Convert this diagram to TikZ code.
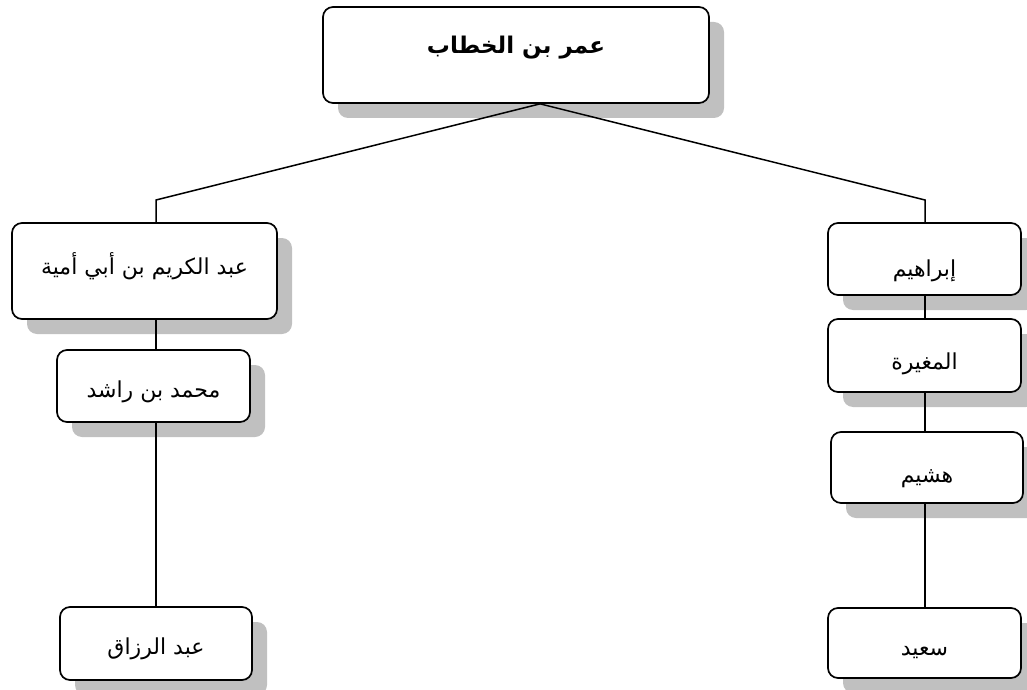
\documentclass[tikz,border=0pt]{standalone}
\usepackage{fontspec}
\usetikzlibrary{shadows}
\TeXXeTstate=1
\newfontfamily\arabicfont[Script=Arabic]{DejaVu Sans}
\definecolor{shadowgray}{RGB}{192,192,192}
\newcommand\artext[2]{\raisebox{#1}[0pt][0pt]{\arabicfont #2}}
\begin{document}
\begin{tikzpicture}[x=1pt,y=-1pt,
  box/.style={draw=black, line width=1.7pt, rounded corners=10pt, fill=white,
    inner sep=0pt, font=\fontsize{22}{24}\selectfont,
    drop shadow={shadow xshift=15pt, shadow yshift=-15pt, fill=shadowgray, opacity=1}},
  link/.style={draw=black, line width=1.5pt}]
\useasboundingbox (0,0) rectangle (1027,690);
\node[box, minimum width=386pt, minimum height=96pt, font=\fontsize{23}{25}\selectfont\bfseries] (top) at (516,55) {\artext{1pt}{\beginR عمر بن الخطاب\endR}};
\node[box, minimum width=265pt, minimum height=96pt] (l1) at (144.5,271) {\artext{-3pt}{\beginR عبد الكريم بن أبي أمية\endR}};
\node[box, minimum width=193pt, minimum height=72pt] (l2) at (153.5,386) {\artext{-11pt}{\beginR محمد بن راشد\endR}};
\node[box, minimum width=192pt, minimum height=73pt] (l3) at (156,643.5) {\artext{-11pt}{\beginR عبد الرزاق\endR}};
\node[box, minimum width=193pt, minimum height=72pt] (r1) at (924.5,259) {\artext{-17pt}{\beginR إبراهيم\endR}};
\node[box, minimum width=193pt, minimum height=73pt] (r2) at (924.5,355.5) {\artext{-14pt}{\beginR المغيرة\endR}};
\node[box, minimum width=192pt, minimum height=71pt] (r3) at (927,467.5) {\artext{-15pt}{\beginR هشيم\endR}};
\node[box, minimum width=193pt, minimum height=70pt] (r4) at (924.5,643) {\artext{-12pt}{\beginR سعيد\endR}};
\coordinate (apex) at ([xshift=24pt]top.south);
\coordinate (lj) at (156,200);
\coordinate (rj) at (925,200);
\draw[link] (apex) -- (lj) -- (lj |- l1.north);
\draw[link] (apex) -- (rj) -- (rj |- r1.north);
\draw[link] (lj |- l1.south) -- (lj |- l2.north);
\draw[link] (lj |- l2.south) -- (lj |- l3.north);
\draw[link] (rj |- r1.south) -- (rj |- r2.north);
\draw[link] (rj |- r2.south) -- (rj |- r3.north);
\draw[link] (rj |- r3.south) -- (rj |- r4.north);
\end{tikzpicture}
\end{document}
